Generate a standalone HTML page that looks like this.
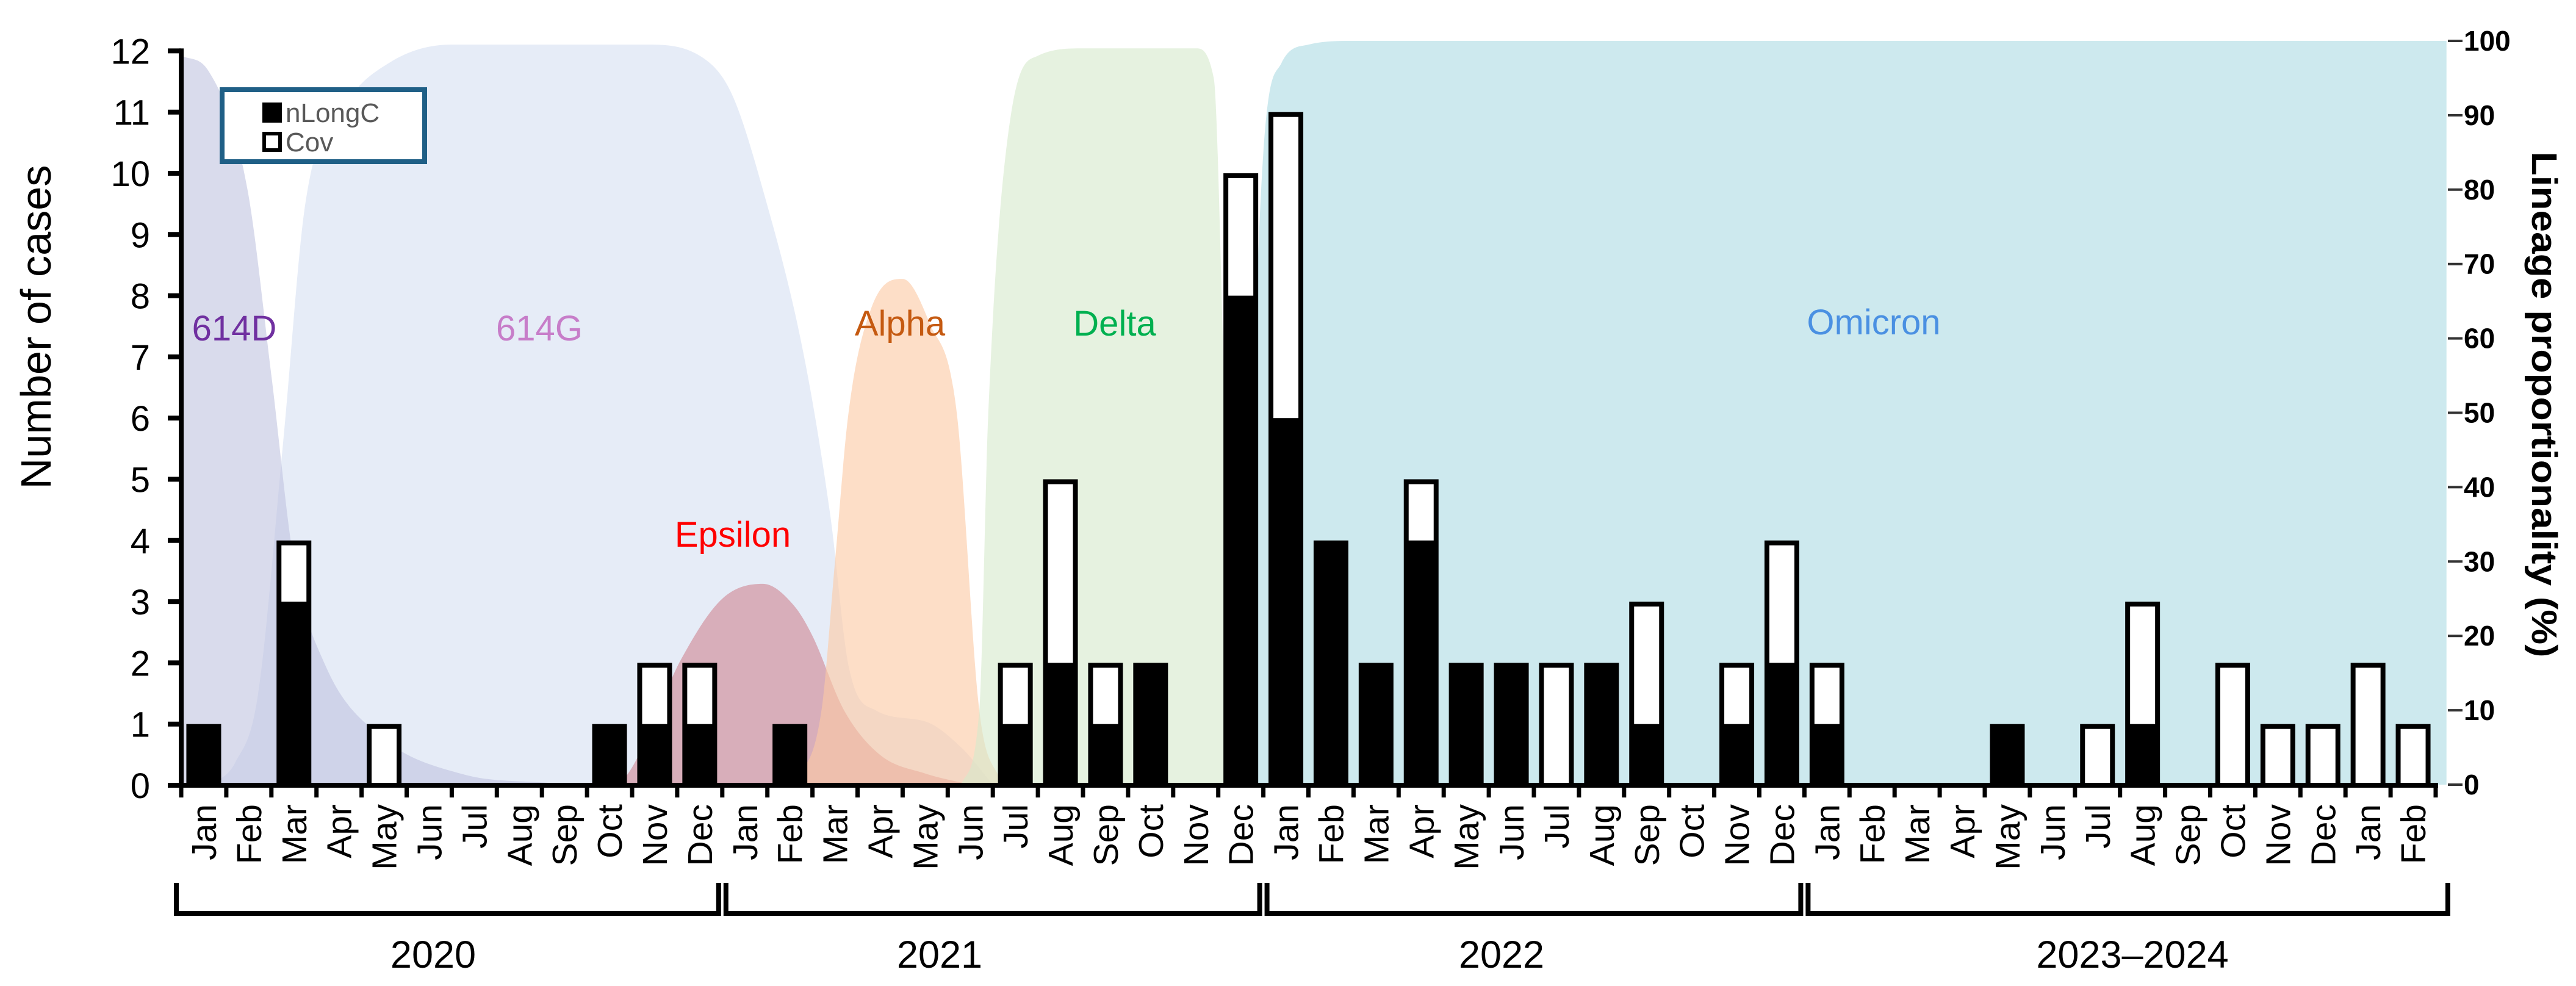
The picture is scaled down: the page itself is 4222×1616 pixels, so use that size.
<!DOCTYPE html>
<html><head><meta charset="utf-8"><style>
html,body{margin:0;padding:0;background:#fff;}
svg{display:block;font-family:"Liberation Sans",Arial,sans-serif;}
</style></head><body>
<svg id="chart" width="4222" height="1616" viewBox="0 0 4222 1616" xmlns="http://www.w3.org/2000/svg">
<g id="areas"></g>
<g id="labels">
<text x="384" y="558" font-size="58" fill="#7030a0" text-anchor="middle">614D</text>
<text x="884" y="558" font-size="58" fill="#c77dc9" text-anchor="middle">614G</text>
<text x="1201" y="896" font-size="58" fill="#ff0000" text-anchor="middle">Epsilon</text>
<text x="1475" y="550" font-size="58" fill="#c55a11" text-anchor="middle">Alpha</text>
<text x="1827" y="550" font-size="58" fill="#00b050" text-anchor="middle">Delta</text>
<text x="3071" y="548" font-size="58" fill="#4a90e2" text-anchor="middle">Omicron</text>
</g>
<g id="bars"></g>
<g id="axes"></g>
<g>
<rect x="364" y="147" width="332" height="118" fill="#fff" stroke="#1f5f86" stroke-width="8"/>
<rect x="430" y="168" width="32" height="33" fill="#000"/>
<text x="468" y="200" font-size="44" fill="#595959">nLongC</text>
<rect x="433" y="219" width="26" height="27" fill="#fff" stroke="#000" stroke-width="6"/>
<text x="468" y="248" font-size="44" fill="#595959">Cov</text>
</g>
<text transform="translate(83,536) rotate(-90)" font-size="70" text-anchor="middle" textLength="531" lengthAdjust="spacingAndGlyphs">Number of cases</text>
<text transform="translate(4150,663) rotate(90)" font-size="58" font-weight="bold" text-anchor="middle" textLength="829" lengthAdjust="spacingAndGlyphs">Lineage proportionality (%)</text>
</svg>
<script>
const months = ["Jan","Feb","Mar","Apr","May","Jun","Jul","Aug","Sep","Oct","Nov","Dec","Jan","Feb","Mar","Apr","May","Jun","Jul","Aug","Sep","Oct","Nov","Dec","Jan","Feb","Mar","Apr","May","Jun","Jul","Aug","Sep","Oct","Nov","Dec","Jan","Feb","Mar","Apr","May","Jun","Jul","Aug","Sep","Oct","Nov","Dec","Jan","Feb"];
const nLongC = [1,0,3,0,0,0,0,0,0,1,1,1, 0,1,0,0,0,0,1,2,1,2,0,8, 6,4,2,4,2,2,0,2,1,0,1,2, 1,0,0,0,1,0,0,1,0,0,0,0,0,0];
const cov    = [0,0,1,0,1,0,0,0,0,0,1,1, 0,0,0,0,0,0,1,3,1,0,0,2, 5,0,0,1,0,0,2,0,2,0,1,2, 1,0,0,0,0,0,1,2,0,2,1,1,2,1];
const leftTicks = [0,1,2,3,4,5,6,7,8,9,10,11,12];
const rightTicks = [0,10,20,30,40,50,60,70,80,90,100];
const yearNames = ["2020","2021","2022","2023\u20132024"];
const yearStart = [0,12,24,36];
const yearEnd = [12,24,36,50];
// lineage proportion curves: [month index (fractional), percent]
const lin614G = [[0.7,0],[1.2,3],[1.7,12],[2.26,46],[2.75,78],[3.6,91],[4.6,97],[6,99.5],[10.3,99.5],[11.5,98],[12.2,93],[12.9,80],[13.8,58],[14.4,36],[14.8,16],[15.4,10],[16.5,8.5],[17.3,5],[18,0]];
const lin614D = [[0,98],[0.6,96],[1.47,80],[2.0,55],[2.5,30],[3.2,16],[4.4,6.6],[6.25,1.4],[8,0.3],[9.5,0]];
const linEps  = [[9.5,0],[9.9,1.4],[11.1,17],[12.0,25],[12.9,27],[13.6,24],[14.0,20],[14.7,10],[15.5,4],[16.5,1.5],[17.5,0]];
const linAlpha= [[13.5,0],[14.2,10],[14.5,30],[14.8,50],[15.3,64],[16.0,68],[16.6,62],[17.2,50],[17.7,10],[18.2,0]];
const linDelta= [[17.3,0],[17.7,10],[17.9,50],[18.4,90],[19.0,98],[20,99],[22.5,99],[22.9,95],[23.1,60],[23.3,5],[23.4,0]];
const linOmi  = [[23.5,0],[23.7,40],[24.0,85],[24.4,97],[25,99.5],[26,100],[50.24,100]];

const NS="http://www.w3.org/2000/svg";
const X0=297, STEP=73.9, Y0=1287, YUNIT=100.3, RY0=1286, RUNIT=12.19, BW=57;
function xm(i){return X0+STEP*i;}
function xc(i){return X0+STEP*(i+0.5);}
function yl(v){return Y0-YUNIT*v;}
function yr(p){return RY0-RUNIT*p;}
function mk(tag,attrs,parent){const e=document.createElementNS(NS,tag);for(const k in attrs)e.setAttribute(k,attrs[k]);parent.appendChild(e);return e;}

const areas=document.getElementById('areas');
function curvePath(pts){
  const P=pts.map(p=>[xm(p[0]),yr(p[1])]);
  const n=P.length, d=[], m=new Array(n).fill(0);
  for(let i=0;i<n-1;i++)d.push((P[i+1][1]-P[i][1])/(P[i+1][0]-P[i][0]));
  m[0]=d[0]; m[n-1]=d[n-2];
  for(let i=1;i<n-1;i++){ m[i]=(d[i-1]*d[i]<=0)?0:(d[i-1]+d[i])/2; }
  for(let i=0;i<n-1;i++){
    if(d[i]===0){m[i]=0;m[i+1]=0;continue;}
    const a=m[i]/d[i], b=m[i+1]/d[i], s=a*a+b*b;
    if(s>9){const t=3/Math.sqrt(s);m[i]=t*a*d[i];m[i+1]=t*b*d[i];}
  }
  let path=`M${P[0][0]},${RY0} L${P[0][0]},${P[0][1]}`;
  for(let i=0;i<n-1;i++){
    const h=(P[i+1][0]-P[i][0])/3;
    path+=` C${P[i][0]+h},${P[i][1]+m[i]*h} ${P[i+1][0]-h},${P[i+1][1]-m[i+1]*h} ${P[i+1][0]},${P[i+1][1]}`;
  }
  path+=` L${P[n-1][0]},${RY0} Z`;
  return path;
}
const a1=mk('path',{d:curvePath(lin614G),fill:'#dde5f4','fill-opacity':'0.72'},areas);


const a2=mk('path',{d:curvePath(lin614D),fill:'#bfc3e0','fill-opacity':'0.6'},areas);


const a3=mk('path',{d:curvePath(linEps),fill:'#c9707e','fill-opacity':'0.5'},areas);


const a4=mk('path',{d:curvePath(linAlpha),fill:'#fbc9a4','fill-opacity':'0.62'},areas);


const a5=mk('path',{d:curvePath(linDelta),fill:'#d5e9cb','fill-opacity':'0.6'},areas);


const a6=mk('path',{d:curvePath(linOmi),fill:'#cde9ee','fill-opacity':'1'},areas);



const bars=document.getElementById('bars');
for(let i=0;i<months.length;i++){
  const tot=nLongC[i]+cov[i];
  if(tot===0)continue;
  const x=xc(i)-BW/2;
  const b=mk('rect',{x:x,y:yl(tot),width:BW,height:Y0-yl(tot),fill:'#000'},bars);
  
  
  if(cov[i]>0){
    const top=yl(tot)+8;
    const bot=nLongC[i]>0?yl(nLongC[i]):Y0-4;
    const w=mk('rect',{x:x+8,y:top,width:BW-16,height:bot-top,fill:'#fff'},bars);
    
    
  }
}

const axes=document.getElementById('axes');
const la=mk('line',{x1:X0,y1:yl(12)-4,x2:X0,y2:Y0+4,stroke:'#000','stroke-width':8},axes);


const xa=mk('line',{x1:X0-4,y1:Y0,x2:xm(50)+4,y2:Y0,stroke:'#000','stroke-width':8},axes);


leftTicks.forEach(v=>{
  const t=mk('line',{x1:X0-22,y1:yl(v),x2:X0,y2:yl(v),stroke:'#000','stroke-width':8},axes);
  
  
  const l=mk('text',{x:246,y:yl(v)+21,'font-size':58,'text-anchor':'end'},axes);
  l.textContent=v;
  
  
});
rightTicks.forEach(v=>{
  const t=mk('line',{x1:4012,y1:yr(v),x2:4036,y2:yr(v),stroke:'#333','stroke-width':4},axes);
  
  
  const l=mk('text',{x:4038,y:yr(v)+16,'font-size':46,'font-weight':'bold'},axes);
  l.textContent=v;
  
  
});
for(let k=0;k<=50;k++){
  const t=mk('line',{x1:xm(k),y1:Y0,x2:xm(k),y2:Y0+20,stroke:'#000','stroke-width':7},axes);
  
  
}
months.forEach((m,i)=>{
  const l=mk('text',{transform:`translate(${xc(i)+20},1318) rotate(-90)`,'font-size':57,'text-anchor':'end'},axes);
  l.textContent=m;
  
  
});
const yearCenters=[710,1540,2461,3495];
yearNames.forEach((n,j)=>{
  const x1=xm(yearStart[j])-8+(j>0?14:0), x2=j===3?4012:xm(yearEnd[j])-6;
  const p=mk('path',{d:`M${x1},1447 L${x1},1497 L${x2},1497 L${x2},1447`,fill:'none',stroke:'#000','stroke-width':8},axes);
  
  
  const l=mk('text',{x:yearCenters[j],y:1586,'font-size':63,'text-anchor':'middle'},axes);
  l.textContent=n;
  
  
});
</script>
</body></html>
